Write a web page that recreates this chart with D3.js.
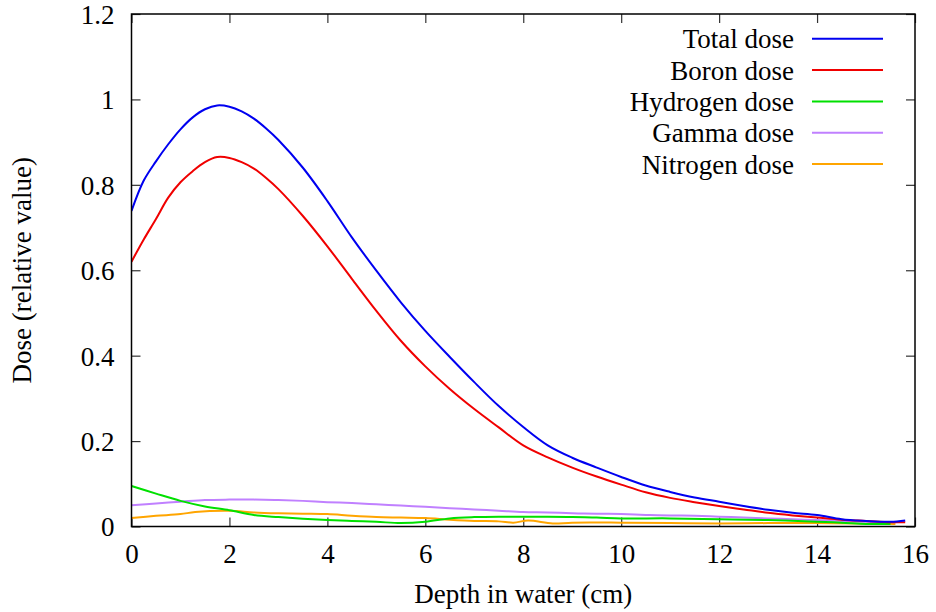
<!DOCTYPE html>
<html><head><meta charset="utf-8">
<script src="https://cdn.jsdelivr.net/npm/d3@7"></script>
<style>body{margin:0;background:#fff}svg{display:block}text{font-family:"Liberation Serif","DejaVu Serif",serif;fill:#000}</style>
</head><body><svg id="c" width="936" height="612"></svg>
<script>
const depthMain = [0,0.25,0.5,0.75,1,1.25,1.5,1.75,2,2.25,2.5,2.75,3,3.5,4,4.5,5,5.5,6,6.5,7,7.5,8,8.5,9,9.5,10,10.5,11,11.5,12,12.5,13,13.5,14,14.5,15,15.5,15.8];
const totalDose = [0.739,0.81,0.855,0.895,0.93,0.958,0.977,0.986,0.983,0.972,0.955,0.932,0.905,0.84,0.762,0.677,0.599,0.525,0.458,0.397,0.338,0.282,0.233,0.19,0.161,0.138,0.116,0.096,0.081,0.068,0.058,0.048,0.039,0.032,0.027,0.017,0.013,0.011,0.014];
const boronDose = [0.62,0.672,0.72,0.77,0.806,0.832,0.853,0.865,0.863,0.853,0.838,0.816,0.79,0.727,0.656,0.58,0.505,0.435,0.375,0.322,0.275,0.232,0.19,0.162,0.138,0.117,0.098,0.08,0.067,0.057,0.048,0.04,0.032,0.026,0.021,0.016,0.013,0.01,0.01];
const depthHydrogen = [0,0.5,1,1.5,2,2.5,3,3.5,4,4.5,5,5.5,6,6.5,7,7.5,8,8.5,9,9.5,10,11,12,13,14,14.5,15,15.5];
const hydrogenDose = [0.095,0.077,0.06,0.047,0.038,0.027,0.022,0.018,0.015,0.013,0.011,0.008,0.011,0.019,0.022,0.023,0.023,0.023,0.022,0.021,0.019,0.019,0.017,0.015,0.011,0.009,0.006,0.006];
const depthGamma = [0,0.5,1,1.5,2,2.5,3,3.5,4,4.5,5,5.5,6,6.5,7,7.5,8,8.5,9,9.5,10,10.5,11,11.5,12,12.5,13,13.5,14,14.5,15,15.6];
const gammaDose = [0.05,0.054,0.058,0.062,0.063,0.063,0.062,0.06,0.057,0.055,0.052,0.049,0.046,0.043,0.04,0.037,0.034,0.033,0.031,0.03,0.029,0.027,0.026,0.025,0.023,0.021,0.019,0.017,0.015,0.013,0.011,0.01];
const depthNitrogen = [0,0.5,1,1.3,2,2.5,3,3.5,4,4.5,5,5.5,6,6.5,7,7.5,7.8,8.1,8.6,9,10,11,12,13,14,15,15.6];
const nitrogenDose = [0.02,0.025,0.029,0.034,0.037,0.033,0.031,0.03,0.029,0.025,0.022,0.021,0.02,0.016,0.013,0.012,0.009,0.014,0.007,0.009,0.009,0.008,0.007,0.008,0.008,0.007,0.006];
const seriesNames = ["Total dose","Boron dose","Hydrogen dose","Gamma dose","Nitrogen dose"];
const seriesColors = ["#0000f0","#f00000","#00e000","#c080ff","#ffa500"];
const xTicks = [0,2,4,6,8,10,12,14,16];
const yTicks = [0,0.2,0.4,0.6,0.8,1,1.2];

const series = [
  {x: depthMain, y: totalDose},
  {x: depthMain, y: boronDose},
  {x: depthHydrogen, y: hydrogenDose},
  {x: depthGamma, y: gammaDose},
  {x: depthNitrogen, y: nitrogenDose}
];

const FS = "27px";
const svg = d3.select("#c");
const L = 131.5, R = 915, T = 14, B = 526.5;
const x = d3.scaleLinear().domain([0,16]).range([L,R]);
const y = d3.scaleLinear().domain([0,1.2]).range([B,T]);

const tickLen = 9;
const gx = svg.append("g").attr("transform",`translate(0,${B})`)
  .call(d3.axisBottom(x).tickValues(xTicks).tickSize(-tickLen).tickFormat(d3.format("d")));
const gxt = svg.append("g").attr("transform",`translate(0,${T})`)
  .call(d3.axisTop(x).tickValues(xTicks).tickSize(-tickLen).tickFormat(""));
const gy = svg.append("g").attr("transform",`translate(${L},0)`)
  .call(d3.axisLeft(y).tickValues(yTicks).tickSize(-tickLen).tickFormat(d => d3.format("~g")(d)));
const gyr = svg.append("g").attr("transform",`translate(${R},0)`)
  .call(d3.axisRight(y).tickValues(yTicks).tickSize(-tickLen).tickFormat(""));
[gx,gxt,gy,gyr].forEach(g => {
  g.select(".domain").remove();
  g.selectAll(".tick line").attr("stroke","#333").attr("stroke-width",1.2);
  g.selectAll(".tick text").style("font-family","'Liberation Serif',serif").style("font-size",FS).attr("fill","#000");
});
gx.selectAll(".tick text").attr("dy",null).attr("y",36);
gy.selectAll(".tick text").attr("x",-17).attr("dy","0.35em");

const clipId = "clip";
svg.append("clipPath").attr("id",clipId).append("rect").attr("x",L).attr("y",T).attr("width",R-L).attr("height",B-T);
const line = d3.line().x(d=>x(d[0])).y(d=>y(d[1])).curve(d3.curveCatmullRom.alpha(0.5));
for (let i = series.length-1; i >= 0; i--) {
  const s = series[i];
  const pts = s.x.map((v,j)=>[v,s.y[j]]);
  svg.append("path").attr("d",line(pts)).attr("fill","none")
    .attr("stroke",seriesColors[i]).attr("stroke-width",2).attr("stroke-linejoin","round")
    .attr("clip-path",`url(#${clipId})`);
}

svg.append("rect").attr("x",L).attr("y",T).attr("width",R-L).attr("height",B-T)
  .attr("fill","none").attr("stroke","#000").attr("stroke-width",1.5);

const lg = svg.append("g");
seriesNames.forEach((n,i) => {
  const yy = 38.7 + i*31.35;
  lg.append("text").attr("x",794).attr("y",yy+9.5).attr("text-anchor","end")
    .style("font-size",FS).text(n);
  lg.append("line").attr("x1",812).attr("x2",883).attr("y1",yy).attr("y2",yy)
    .attr("stroke",seriesColors[i]).attr("stroke-width",2);
});

svg.append("text").attr("x",(L+R)/2).attr("y",603).attr("text-anchor","middle").style("font-size",FS).text("Depth in water (cm)");
svg.append("text").attr("transform",`translate(31,${(T+B)/2}) rotate(-90)`).attr("text-anchor","middle").style("font-size",FS).text("Dose (relative value)");
</script></body></html>
